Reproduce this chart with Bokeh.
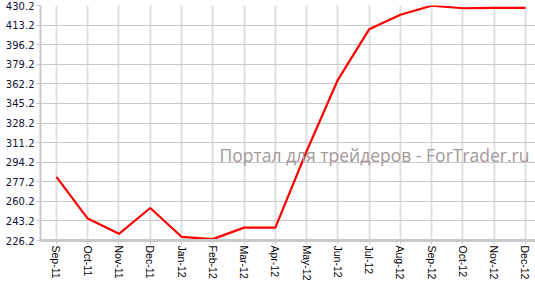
from bokeh.plotting import figure
from bokeh.models import Range1d, FixedTicker, Label, NumeralTickFormatter
from bokeh.embed import file_html
from bokeh.resources import INLINE

months = ["Sep-11", "Oct-11", "Nov-11", "Dec-11", "Jan-12", "Feb-12", "Mar-12", "Apr-12",
          "May-12", "Jun-12", "Jul-12", "Aug-12", "Sep-12", "Oct-12", "Nov-12", "Dec-12"]
values = [281.5, 245.2, 232.0, 254.4, 229.4, 227.4, 237.4, 237.4,
          303.7, 365.7, 409.5, 422.2, 430.0, 427.8, 428.2, 428.2]
y_ticks = [226.2, 243.2, 260.2, 277.2, 294.2, 311.2, 328.2, 345.2,
           362.2, 379.2, 396.2, 413.2, 430.2]
watermark = "Портал для трейдеров - ForTrader.ru"

idx = list(range(len(months)))

p = figure(width=535, height=283, output_backend="svg", toolbar_location=None,
           x_range=Range1d(-0.51, 15.32), y_range=Range1d(226.2, 430.2),
           min_border_left=40, min_border_right=0, min_border_top=5, min_border_bottom=41)
p.outline_line_color = None
p.background_fill_color = "white"
p.border_fill_color = "white"

p.line(idx, values, line_color="#ff0000", line_width=2.2)

# x axis
p.xaxis.ticker = FixedTicker(ticks=idx)
p.xaxis.major_label_overrides = {i: m for i, m in enumerate(months)}
p.xaxis.major_label_orientation = "vertical"
p.xaxis.major_label_text_font = "Liberation Sans"
p.xaxis.major_label_text_font_size = "10.5px"
p.xaxis.major_label_text_color = "#000000"
p.xaxis.axis_line_color = "#c8c8c8"
p.xaxis.axis_line_width = 3
p.xaxis.major_tick_line_color = "#c8c8c8"
p.xaxis.major_tick_in = 0
p.xaxis.major_tick_out = 4
p.xaxis.minor_tick_line_color = None
p.xaxis.major_label_standoff = 1

# y axis
p.yaxis.ticker = FixedTicker(ticks=y_ticks)
p.yaxis.formatter = NumeralTickFormatter(format="0.0")
p.yaxis.major_label_text_font = "DejaVu Sans"
p.yaxis.major_label_text_font_size = "10px"
p.yaxis.major_label_text_color = "#111133"
p.yaxis.axis_line_color = "#c8c8c8"
p.yaxis.axis_line_width = 2
p.yaxis.major_tick_line_color = "#c8c8c8"
p.yaxis.major_tick_in = 0
p.yaxis.major_tick_out = 4
p.yaxis.minor_tick_line_color = None
p.yaxis.major_label_standoff = 2

# grids
p.xgrid.grid_line_color = "#e0e0e0"
p.xgrid.grid_line_width = 2
p.ygrid.grid_line_color = "#c8c8c8"
p.ygrid.grid_line_width = 1

p.add_layout(Label(x=179, y=86, x_units="screen", y_units="screen", text=watermark,
                   text_font="Open Sans", text_font_size="17.5px", text_color="#a39898",
                   text_baseline="alphabetic"))

open("out.html", "w").write(file_html(p, INLINE))
